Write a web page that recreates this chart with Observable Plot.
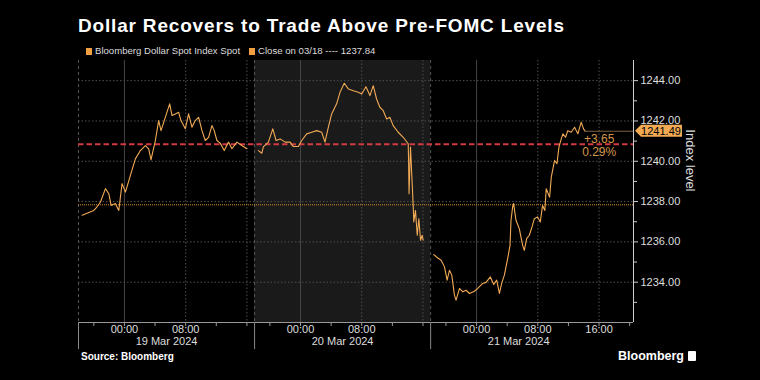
<!DOCTYPE html>
<html>
<head>
<meta charset="utf-8">
<script src="https://cdn.jsdelivr.net/npm/d3@7"></script>
<script src="https://cdn.jsdelivr.net/npm/@observablehq/plot@0.6"></script>
<style>
  html, body { margin: 0; padding: 0; background: #000; }
  body { width: 760px; height: 380px; overflow: hidden; font-family: "Liberation Sans", Arial, sans-serif; }
  #wrap { position: relative; width: 760px; height: 380px; }
  #title { position: absolute; left: 78px; top: 15px; font-size: 19px; line-height: 22px; font-weight: bold; color: #fff; letter-spacing: 0.82px; white-space: nowrap; }
  #legend { position: absolute; left: 86px; top: 45px; font-size: 9.6px; line-height: 12px; color: #ddd; white-space: nowrap; }
  .sw { display: inline-block; width: 6px; height: 7px; background: #f0a040; margin-right: 3px; vertical-align: -0.5px; }
  .gap { display: inline-block; width: 9px; }
  #chart { position: absolute; left: 0; top: 56px; }
  #source { position: absolute; left: 81px; top: 351px; font-size: 10px; line-height: 12px; font-weight: bold; color: #fff; }
  #logo { position: absolute; left: 618px; top: 349px; font-size: 12.5px; line-height: 14px; font-weight: bold; color: #fff; white-space: nowrap; }
  #logo span { display: inline-block; width: 8px; height: 10px; background: #fff; border-radius: 1px; margin-left: 4px; vertical-align: -1px; }
</style>
</head>
<body>
<div id="wrap">
  <div id="title">Dollar Recovers to Trade Above Pre-FOMC Levels</div>
  <div id="legend"><span class="sw"></span>Bloomberg Dollar Spot Index Spot<span class="gap"></span><span class="sw"></span>Close on 03/18 ---- 1237.84</div>
  <div id="chart"></div>
  <div id="source">Source: Bloomberg</div>
  <div id="logo">Bloomberg<span></span></div>
</div>
<script>
// Trading hours since 18:00 on 18 Mar (each session = 23 trading hours, 18:00 -> 17:00)
const hours = [
  0.48, 2.0, 2.4, 2.87, 3.52, 3.96, 4.26, 4.82, 5.26, 5.69, 6.13, 6.78, 7.43, 8.08, 8.74, 9.17, 9.47,
  10.04, 10.47, 10.78, 11.34, 11.91, 12.22, 12.65, 13.08, 13.39, 13.95, 14.38, 14.82, 15.25, 15.69,
  16.13, 16.56, 16.99, 17.43, 17.73, 18.08, 18.51, 19.04, 19.60, 20.04, 20.69, 21.34, 21.99,
  22.5,
  23.5, 23.95, 24.16, 24.81, 25.38, 25.81, 26.34, 26.99, 27.64, 28.07, 28.72, 29.16, 29.81, 30.47,
  31.12, 31.77, 32.20, 32.64, 33.07, 33.72, 34.16, 34.72, 35.25, 35.90, 36.55, 36.99, 37.55, 38.07,
  38.50, 38.94, 39.37, 39.81, 40.25, 40.68, 41.11, 41.76, 42.42, 43.07, 43.12, 43.18, 43.37, 43.60,
  43.73, 43.80, 44.02, 44.25, 44.46, 44.68, 44.90, 45.03,
  45.7,
  46.40, 46.94, 47.37, 47.81, 48.15, 48.46, 48.76, 49.11, 49.32, 49.77, 50.20, 50.63, 51.07, 51.72,
  52.15, 52.80, 53.24, 53.80, 54.24, 54.63, 54.98, 55.28, 55.63, 56.06, 56.37, 56.50, 56.71, 56.84,
  57.15, 57.58, 58.02, 58.24, 58.54, 58.89, 59.24, 59.55, 59.97, 60.32, 60.62, 60.92, 61.10, 61.54,
  61.76, 62.19, 62.50, 62.76, 63.06, 63.28, 63.62, 63.92, 64.37, 64.80, 65.23, 65.67, 65.97, 66.19
];
const index = [
  1237.32, 1237.56, 1237.73, 1237.98, 1238.64, 1238.39, 1237.81, 1237.90, 1237.56, 1238.89, 1238.47,
  1239.30, 1240.12, 1240.53, 1240.78, 1240.62, 1240.07, 1241.03, 1242.02, 1241.52, 1242.18, 1242.85,
  1242.27, 1242.35, 1242.43, 1242.02, 1241.61, 1242.35, 1241.69, 1242.02, 1242.18, 1241.52, 1241.03,
  1241.19, 1241.77, 1241.52, 1241.03, 1240.90, 1240.53, 1240.95, 1240.62, 1240.95, 1240.78, 1240.62,
  null,
  1240.53, 1240.40, 1240.73, 1240.95, 1241.61, 1241.03, 1241.11, 1240.95, 1240.95, 1240.73, 1240.73,
  1241.03, 1241.36, 1241.44, 1241.52, 1241.44, 1240.95, 1241.69, 1242.35, 1242.85, 1243.42, 1243.87,
  1243.59, 1243.50, 1243.42, 1243.34, 1243.70, 1243.26, 1243.75, 1243.09, 1242.68, 1242.51, 1242.10,
  1242.18, 1241.77, 1241.44, 1241.19, 1240.87, 1240.04, 1238.39, 1240.70, 1238.80, 1237.73, 1236.99,
  1237.56, 1236.33, 1237.15, 1236.08, 1236.33, 1236.08,
  null,
  1235.37, 1235.20, 1235.09, 1234.76, 1234.10, 1234.59, 1234.35, 1233.36, 1233.11, 1233.69, 1233.52,
  1233.60, 1233.44, 1233.55, 1233.69, 1233.94, 1233.99, 1234.26, 1233.89, 1234.10, 1233.44, 1233.94,
  1234.35, 1235.17, 1235.83, 1237.07, 1237.73, 1237.90, 1237.07, 1236.66, 1235.83, 1235.58, 1236.16,
  1236.33, 1236.74, 1237.15, 1237.24, 1236.99, 1237.81, 1237.56, 1238.64, 1238.22, 1239.21, 1240.04,
  1239.88, 1240.70, 1241.11, 1241.36, 1241.19, 1241.52, 1241.44, 1241.69, 1241.36, 1241.94, 1241.61,
  1241.49
];

const closeMar18 = 1237.84;
const preFomcLevel = 1240.84;

const sessionStarts = [0, 23, 46];
const sessionLength = 23;
const dayLabels = ["19 Mar 2024", "20 Mar 2024", "21 Mar 2024"];
const shadedSessions = [[23, 46]];

const midnightHours = [6, 29, 52];
const dottedHours = [14, 22, 37, 45, 60, 68];
const labelHours = [6, 14, 29, 37, 52, 60, 68];
const timeLabels = ["00:00", "08:00", "00:00", "08:00", "00:00", "08:00", "16:00"];
const minorHours = [2, 6, 10, 14, 18, 22, 25, 29, 33, 37, 41, 45, 48, 52, 56, 60, 64, 68, 72];

const yMajor = [1234, 1236, 1238, 1240, 1242, 1244];
const yMinor = [1233, 1235, 1237, 1239, 1241, 1243];

const xDomain = [0, 72.5];
const yDomain = [1232, 1245];

const series = hours.map((h, i) => ({h, v: index[i]}));
const lastH = hours[hours.length - 1];
const lastV = index[index.length - 1];
const change = lastV - closeMar18;
const pct = change / closeMar18 * 100;
const last = [{h: lastH, v: lastV}];

const FONT = '"Liberation Sans", Arial, sans-serif';
const noText = () => "";

const chart = Plot.plot({
  width: 760,
  height: 294,
  marginLeft: 78,
  marginRight: 127,
  marginTop: 4,
  marginBottom: 28,
  style: {background: "transparent", color: "#ddd", fontFamily: FONT, fontSize: "11px", overflow: "visible"},
  x: {domain: xDomain, axis: null},
  y: {domain: yDomain, axis: null},
  marks: [
    Plot.rect(shadedSessions, {x1: d => d[0], x2: d => d[1], fill: "#1a1a1a"}),
    Plot.ruleY(yMajor, {stroke: "#4f4f4f", strokeDasharray: "1.5,2"}),
    Plot.ruleX(midnightHours, {stroke: "#454545"}),
    Plot.ruleX(dottedHours, {stroke: "#4f4f4f", strokeDasharray: "1.5,2"}),
    Plot.ruleX(sessionStarts, {stroke: "#555", strokeDasharray: "3,3"}),
    Plot.ruleY([closeMar18], {stroke: "#d98c30", strokeDasharray: "1,1", strokeWidth: 1}),
    Plot.ruleY([preFomcLevel], {stroke: "#d13a45", strokeWidth: 2, strokeDasharray: "5.5,3"}),
    Plot.line(series, {x: "h", y: "v", stroke: "#f2aa55", strokeWidth: 1.1}),
    Plot.ruleY(last, {y: "v", x1: "h", x2: () => xDomain[1], stroke: "#7d6440"}),
    Plot.text(last, {x: "h", y: "v", text: () => "+" + d3.format(".2f")(change), dx: 14, dy: 8, fill: "#d4974e", fontSize: 12}),
    Plot.text(last, {x: "h", y: "v", text: () => d3.format(".2f")(pct) + "%", dx: 14, dy: 21, fill: "#d4974e", fontSize: 12}),
    Plot.ruleY([yDomain[0]], {stroke: "#999"}),
    Plot.ruleX([xDomain[1]], {stroke: "#ccc"}),
    Plot.axisX(minorHours, {anchor: "bottom", tickSize: 4, tickFormat: noText, label: null, stroke: "#999"}),
    Plot.axisX(sessionStarts, {anchor: "bottom", tickSize: 27, tickFormat: noText, label: null, stroke: "#888"}),
    Plot.text(labelHours, {x: d => d, text: (d, i) => timeLabels[i], frameAnchor: "bottom", dy: 10, fill: "#ddd", fontSize: 11}),
    Plot.text(sessionStarts, {x: d => d + sessionLength / 2, text: (d, i) => dayLabels[i], frameAnchor: "bottom", dy: 22, fill: "#ddd", fontSize: 11}),
    Plot.axisY(yMajor, {anchor: "right", tickSize: 4, tickPadding: 3, tickFormat: d3.format(".2f"), label: null, stroke: "#ccc", fill: "#ddd", fontSize: 11}),
    Plot.axisY(yMinor, {anchor: "right", tickSize: 3, tickFormat: noText, label: null, stroke: "#ccc"}),
    Plot.text(["Index level"], {frameAnchor: "right", rotate: 90, dx: 57, fill: "#ddd", fontSize: 13})
  ]
});

// last-value tag, placed through the chart's own scales
const svg = d3.select(chart);
const ty = chart.scale("y").apply(lastV);
const tx = chart.scale("x").apply(xDomain[1]);
svg.append("path")
  .attr("d", `M${tx + 2},${ty} L${tx + 8},${ty - 6} H${tx + 49} V${ty + 6} H${tx + 8} Z`)
  .attr("fill", "#f2aa55");
svg.append("text")
  .attr("x", tx + 28).attr("y", ty)
  .attr("dy", "0.36em")
  .attr("text-anchor", "middle")
  .attr("font-size", 11)
  .attr("font-family", FONT)
  .attr("fill", "#000")
  .text(d3.format(".2f")(lastV));

document.getElementById("chart").appendChild(chart);
</script>
</body>
</html>
